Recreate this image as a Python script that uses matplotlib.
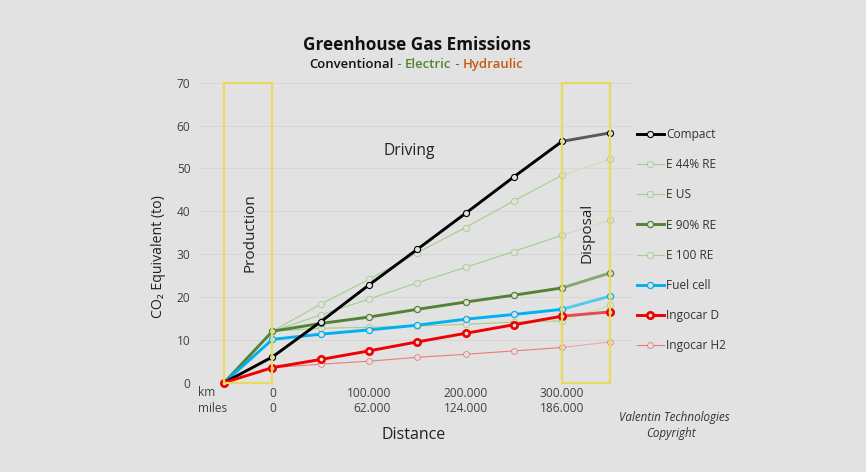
import matplotlib
matplotlib.use("Agg")
import matplotlib.pyplot as plt
from matplotlib.patches import Rectangle

plt.rcParams['font.family'] = ['Open Sans', 'DejaVu Sans']

BG = '#e2e2e2'
TEXT = '#404040'

# data, first point is the start of production
km_labels = ['', '0', '', '100.000', '', '200.000', '', '300.000', '']
mile_labels = ['', '0', '', '62.000', '', '124.000', '', '186.000', '']
y_ticks = [0, 10, 20, 30, 40, 50, 60, 70]

compact = [0, 6.0, 14.2, 22.8, 31.1, 39.5, 48.0, 56.3, 58.3]
e_44_re = [0, 12.0, 18.3, 24.1, 30.3, 36.2, 42.4, 48.4, 52.2]
e_us = [0, 12.0, 15.8, 19.5, 23.3, 26.9, 30.6, 34.4, 37.9]
e_90_re = [0, 12.0, 13.8, 15.3, 17.1, 18.8, 20.4, 22.1, 25.6]
e_100_re = [0, 12.0, 12.7, 12.9, 13.2, 13.6, 14.1, 14.4, 18.1]
fuel_cell = [0, 10.1, 11.3, 12.3, 13.4, 14.8, 15.9, 17.1, 20.2]
ingocar_d = [0, 3.5, 5.4, 7.4, 9.5, 11.5, 13.5, 15.5, 16.5]
ingocar_h2 = [0, 3.5, 4.3, 5.0, 5.9, 6.6, 7.4, 8.2, 9.5]

# name, values, colour, colour of disposal segment, line width, marker edge width, marker size
series = [
    ('E 44% RE', e_44_re, '#a3d088', '#c5e0b4', 0.8, 0.6, 4.6),
    ('E US', e_us, '#a3d088', '#c5e0b4', 0.8, 0.6, 4.6),
    ('E 100 RE', e_100_re, '#a3d088', '#c5e0b4', 0.8, 0.6, 4.6),
    ('Ingocar H2', ingocar_h2, '#ec7a7c', '#f2a5a6', 0.8, 0.6, 4.2),
    ('E 90% RE', e_90_re, '#548235', '#87a86f', 2.1, 0.9, 4.4),
    ('Fuel cell', fuel_cell, '#00b0f0', '#55cbe8', 2.1, 0.9, 4.4),
    ('Compact', compact, '#000000', '#595959', 2.1, 0.8, 4.4),
    ('Ingocar D', ingocar_d, '#f00000', '#e8494e', 2.1, 1.9, 4.6),
]
legend_order = ['Compact', 'E 44% RE', 'E US', 'E 90% RE', 'E 100 RE',
                'Fuel cell', 'Ingocar D', 'Ingocar H2']


def main():
    fig = plt.figure(figsize=(8.66, 4.72), dpi=100, facecolor=BG)
    ax = fig.add_axes([200.1 / 866, 1 - 382.6 / 472, 434.3 / 866, 299.9 / 472], facecolor=BG)

    x = list(range(len(compact)))
    handles = {}
    for name, values, color, end_color, lw, mew, ms in series:
        # disposal segment is drawn paler than the rest
        ax.plot(x[-2:], values[-2:], color=end_color, lw=lw, zorder=3, clip_on=False)
        handles[name], = ax.plot(x[:-1], values[:-1], color=color, lw=lw, marker='o', ms=ms,
                                 mew=mew, mec=color, mfc=BG, zorder=4, clip_on=False)
        ax.plot(x[-1:], values[-1:], ls='none', marker='o', ms=ms, mew=mew,
                mec=color, mfc=BG, zorder=4, clip_on=False)

    # production and disposal boxes
    for start in (x[0], x[-2]):
        ax.add_patch(Rectangle((start, 0), 1, 70, fill=False, ec='#e8d95f', lw=1.6, zorder=5,
                               clip_on=False))

    ax.set_xlim(-0.5, 8.5)
    ax.set_ylim(0, 70)
    ax.set_yticks(y_ticks)
    ax.set_xticks(x)
    ax.set_xticklabels([f'{k}\n{m}' if k else '' for k, m in zip(km_labels, mile_labels)],
                       multialignment='right', linespacing=1.2)
    ax.tick_params(axis='both', length=0, labelsize=8.6, labelcolor=TEXT)
    ax.tick_params(axis='x', pad=3)
    ax.tick_params(axis='y', pad=7)
    ax.grid(axis='y', color='#d7d7d7', lw=0.8, zorder=0)
    for spine in ax.spines.values():
        spine.set_visible(False)

    fig.text(198 / 866, 1 - 392.7 / 472, 'km', fontsize=8.6, color=TEXT, va='center')
    fig.text(198 / 866, 1 - 408 / 472, 'miles', fontsize=8.6, color=TEXT, va='center')

    ax.text(0.54, 35, 'Production', rotation=90, ha='center', va='center', fontsize=11, color='#222222')
    ax.text(7.52, 35, 'Disposal', rotation=90, ha='center', va='center', fontsize=11, color='#222222')
    ax.text(3.84, 54.1, 'Driving', ha='center', va='center', fontsize=11.2, color='#222222')

    fig.text(158.5 / 866, 1 - 257 / 472, 'CO₂ Equivalent (to)', rotation=90, ha='center',
             va='center', fontsize=10.2, color='#222222')
    fig.text(414 / 866, 1 - 435 / 472, 'Distance', ha='center', va='center', fontsize=11.5,
             color='#222222')

    fig.text(416.5 / 866, 1 - 45 / 472, 'Greenhouse Gas Emissions', ha='center', va='center',
             fontsize=12.3, fontweight='bold', color='#111111')

    # subtitle has several colours, place the pieces one after the other
    pieces = [('Conventional', '#111111', 'semibold'), (' - ', '#555555', 'normal'),
              ('Electric', '#548235', 'semibold'), (' - ', '#555555', 'normal'),
              ('Hydraulic', '#c55a11', 'semibold')]
    renderer = fig.canvas.get_renderer()
    texts = [fig.text(0, 1 - 68 / 472, s.replace(' ', '\u00a0'), color=c, fontweight=w, fontsize=9.45,
                      va='baseline') for s, c, w in pieces]
    widths = [t.get_window_extent(renderer).width for t in texts]
    pos = 416.5 - sum(widths) / 2
    for t, w in zip(texts, widths):
        t.set_x(pos / 866)
        pos += w

    fig.text(674 / 866, 1 - 418 / 472, 'Valentin Technologies', style='italic', ha='center',
             va='center', fontsize=8.4, color='#333333')
    fig.text(671 / 866, 1 - 434 / 472, 'Copyright', style='italic', ha='center', va='center',
             fontsize=8.4, color='#333333')

    ax.legend([handles[n] for n in legend_order], legend_order, loc='upper left',
              bbox_to_anchor=(637 / 866, 1 - 128 / 472), bbox_transform=fig.transFigure,
              frameon=False, fontsize=8.6, labelcolor='#333333', handlelength=2.25,
              handletextpad=0.2, labelspacing=1.44, borderpad=0, borderaxespad=0, numpoints=1)

    fig.savefig('out.png', dpi=100, facecolor=BG)


if __name__ == "__main__":
    main()
